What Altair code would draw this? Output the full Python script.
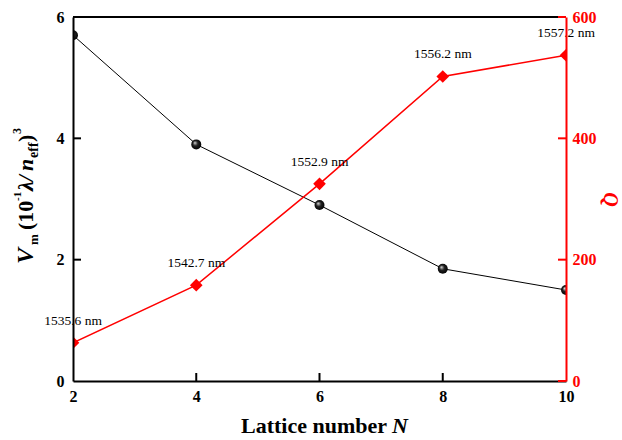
import altair as alt
import pandas as pd

# Lattice number, mode volume (left axis), Q factor (right axis), resonance labels
lattice_n = [2, 4, 6, 8, 10]
mode_volume = [5.70, 3.90, 2.90, 1.85, 1.50]
q_factor = [63, 158, 325, 502, 537]
resonance = ["1535.6 nm", "1542.7 nm", "1552.9 nm", "1556.2 nm", "1557.2 nm"]

# Axis tick values
x_tick_values = [2, 4, 6, 8, 10]
v_tick_values = [0, 2, 4, 6]
q_tick_values = [0, 200, 400, 600]
x_inner_ticks = [4, 6, 8]
v_inner_ticks = [2, 4]
q_inner_ticks = [0, 200, 400, 600]

W, H = 493, 364
LEFT, TOP = 73, 17
SERIF = "Liberation Serif"
RED = "#ff0000"
TICK = 8

df = pd.DataFrame({"N": lattice_n, "Vm": mode_volume, "Q": q_factor, "lam": resonance})
one_row = alt.Data(values=[{}])

x_scale = alt.Scale(domain=[2, 10], nice=False, zero=False)
v_scale = alt.Scale(domain=[0, 6], nice=False)
q_scale = alt.Scale(domain=[0, 600], nice=False)

x_axis = alt.Axis(values=x_tick_values, format="d", domainColor="black", domainWidth=2,
                  ticks=False, grid=False, labelColor="black", labelFont=SERIF,
                  labelFontSize=16, labelFontWeight="bold", labelPadding=7,
                  labelFlush=False, title=None, zindex=0)
v_axis = alt.Axis(values=v_tick_values, format="d", orient="left", domainColor="black",
                  domainWidth=2, ticks=False, grid=False, labelColor="black",
                  labelFont=SERIF, labelFontSize=16, labelFontWeight="bold",
                  labelPadding=9, title=None, zindex=1)
q_axis = alt.Axis(values=q_tick_values, format="d", orient="right", domainColor=RED,
                  domainWidth=2, ticks=False, grid=False, labelColor=RED,
                  labelFont=SERIF, labelFontSize=16, labelFontWeight="bold",
                  labelPadding=6, title="Q", titleColor=RED, titleFont=SERIF,
                  titleFontSize=20, titleFontWeight="bold", titleFontStyle="italic",
                  titlePadding=3, zindex=1)

x_enc = alt.X("N:Q", scale=x_scale)
base = alt.Chart(df)

# Frame top edge
top_edge = alt.Chart(one_row).mark_rule(color="black", strokeWidth=2).encode(
    x=alt.value(0), x2=alt.value(W), y=alt.value(0))

# Mode volume: thin black line with shaded spheres
sphere_fill = alt.RadialGradient(
    gradient="radial", x1=0.35, y1=0.32, r1=0, x2=0.5, y2=0.5, r2=0.55,
    stops=[alt.GradientStop(offset=0, color="#e8e8e8"),
           alt.GradientStop(offset=0.45, color="#222222"),
           alt.GradientStop(offset=1, color="#000000")])

v_line = base.mark_line(color="black", strokeWidth=1, clip=True).encode(
    x=alt.X("N:Q", scale=x_scale, axis=x_axis),
    y=alt.Y("Vm:Q", scale=v_scale, axis=v_axis))
v_balls = base.mark_circle(fill=sphere_fill, size=100, opacity=1, clip=True).encode(
    x=x_enc, y=alt.Y("Vm:Q", scale=v_scale, axis=None))
v_ticks = alt.Chart(pd.DataFrame({"t": v_inner_ticks})).mark_rule(
    color="black", strokeWidth=2).encode(
    y=alt.Y("t:Q", scale=v_scale, axis=None), x=alt.value(0), x2=alt.value(TICK))

# Q factor: red line with diamonds and resonance wavelength labels
q_line = base.mark_line(color=RED, strokeWidth=1.5, clip=True).encode(
    x=x_enc, y=alt.Y("Q:Q", scale=q_scale, axis=q_axis))
q_marks = base.mark_point(shape="diamond", filled=True, color=RED, size=160,
                          opacity=1, clip=True).encode(
    x=x_enc, y=alt.Y("Q:Q", scale=q_scale, axis=None))
q_labels = base.mark_text(font=SERIF, fontSize=13.5, color="black", dy=-22).encode(
    x=x_enc, y=alt.Y("Q:Q", scale=q_scale, axis=None), text="lam:N")
q_ticks = alt.Chart(pd.DataFrame({"t": q_inner_ticks})).mark_rule(
    color=RED, strokeWidth=2).encode(
    y=alt.Y("t:Q", scale=q_scale, axis=None), x=alt.value(W - TICK), x2=alt.value(W))

# Inward ticks on the bottom axis
x_ticks = alt.Chart(pd.DataFrame({"N": x_inner_ticks})).mark_rule(
    color="black", strokeWidth=2).encode(
    x=x_enc, y=alt.value(H), y2=alt.value(H - TICK))


def piece(text, size, style, x, y, angle=0, align="left"):
    return alt.Chart(one_row).mark_text(
        text=text, font=SERIF, fontSize=size, fontWeight="bold", fontStyle=style,
        angle=angle, align=align, baseline="alphabetic", color="black").encode(
        x=alt.value(x - LEFT), y=alt.value(y - TOP))


# Left axis title: V_m (10^-1 λ/n_eff)^3, rotated to read upward
v_title = [
    piece("V", 24, "italic", 33, 264, 270),
    piece("m", 13, "normal", 38, 245, 270),
    piece("(10", 22, "normal", 33, 230, 270),
    piece("-1", 11, "normal", 21, 201, 270),
    piece("λ/", 22, "italic", 33, 191, 270),
    piece("n", 22, "italic", 33, 171, 270),
    piece("eff", 14, "normal", 38, 158, 270),
    piece(")", 22, "normal", 33, 142, 270),
    piece("3", 12, "normal", 21, 134, 270),
]

# Bottom axis title: Lattice number N
x_title = [
    piece("Lattice number", 22, "normal", 387, 433, 0, "right"),
    piece("N", 22, "italic", 392, 433, 0, "left"),
]

chart = alt.layer(
    top_edge, v_line, v_balls, v_ticks, q_line, q_marks, q_labels, q_ticks,
    x_ticks, *v_title, *x_title
).resolve_scale(
    y="independent"
).properties(
    width=W, height=H, autosize="none",
    padding={"left": LEFT, "top": TOP, "right": 622 - LEFT - W, "bottom": 440 - TOP - H},
    background="white",
).configure_view(stroke=None)

chart.save("out.html", embed_options={"renderer": "svg", "actions": False})
